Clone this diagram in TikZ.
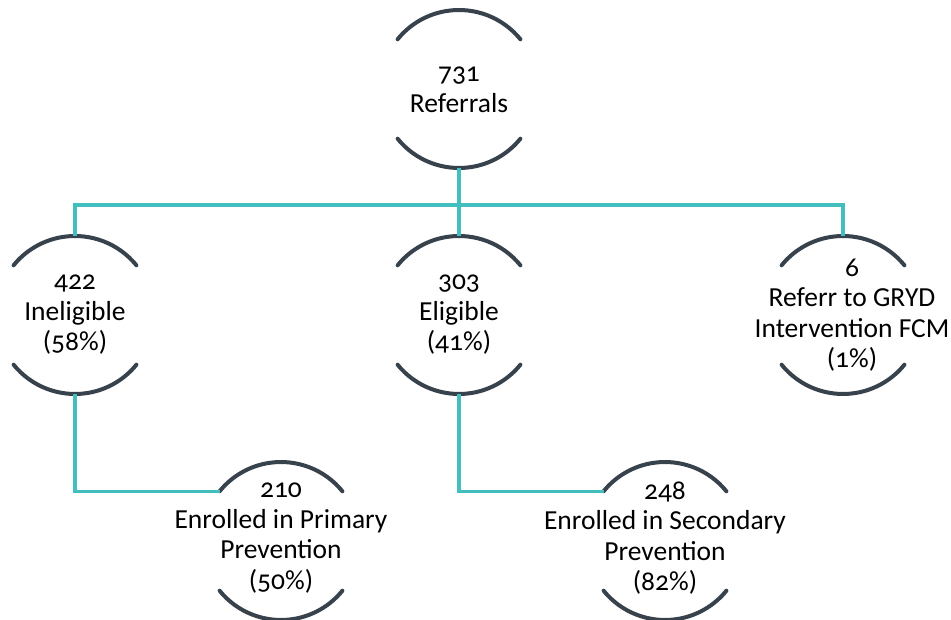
\documentclass[tikz,border=0pt]{standalone}
\usepackage{fontspec}
\setmainfont[Numbers=OldStyle]{Carlito}
\usetikzlibrary{calc}
\definecolor{arcc}{RGB}{56,66,76}
\definecolor{teal}{RGB}{66,190,190}
\begin{document}
\begin{tikzpicture}[x=1pt,y=1pt,
  ring/.style={circle,minimum size=158pt,inner sep=0pt,outer sep=0pt},
  txt/.style={align=center,font=\fontsize{27.5}{30.5}\selectfont,text=black},
  arcst/.style={draw=arcc,line width=4pt,line cap=round},
  conn/.style={draw=teal,line width=3.5pt}]
\useasboundingbox (0,0) rectangle (951,-620);
\fill[white] (0,0) rectangle (951,-620);

% circles that carry the bracket arcs
\node[ring] (ref)  at (459,-89)  {};
\node[ring] (inel) at (75,-315)  {};
\node[ring] (elig) at (459,-315) {};
\node[ring] (gryd) at (843,-315) {};
\node[ring] (prim) at (281,-541) {};
\node[ring] (sec)  at (665,-541) {};

% texts
\node[txt] (tref)  at (459,-90)  {731\\Referrals};
\node[txt] (tinel) at (75,-315)  {422\\Ineligible\\(58\%)};
\node[txt] (telig) at (459,-315) {303\\Eligible\\(41\%)};
\node[txt] (tgryd) at (852,-315) {6\\Referr to GRYD\\Intervention FCM\\(1\%)};
\node[txt] (tprim) at (281,-538) {210\\Enrolled in Primary\\Prevention\\(50\%)};
\node[txt] (tsec)  at (665,-538) {248\\Enrolled in Secondary\\Prevention\\(82\%)};

% bracket arcs above and below each text
\foreach \n in {ref,inel,elig,gryd,prim,sec}{
  \draw[arcst] (\n.39) arc[start angle=39,end angle=141,radius=79];
  \draw[arcst] (\n.219) arc[start angle=219,end angle=321,radius=79];
}

% connectors
\coordinate (bus) at (0,-205);
\draw[conn] (ref.south) -- (elig.north);
\draw[conn] (inel.north) -- (inel.north |- bus) -- (gryd.north |- bus) -- (gryd.north);
\draw[conn] (inel.south) |- (prim.141);
\draw[conn] (elig.south) |- (sec.141);
\end{tikzpicture}
\end{document}
